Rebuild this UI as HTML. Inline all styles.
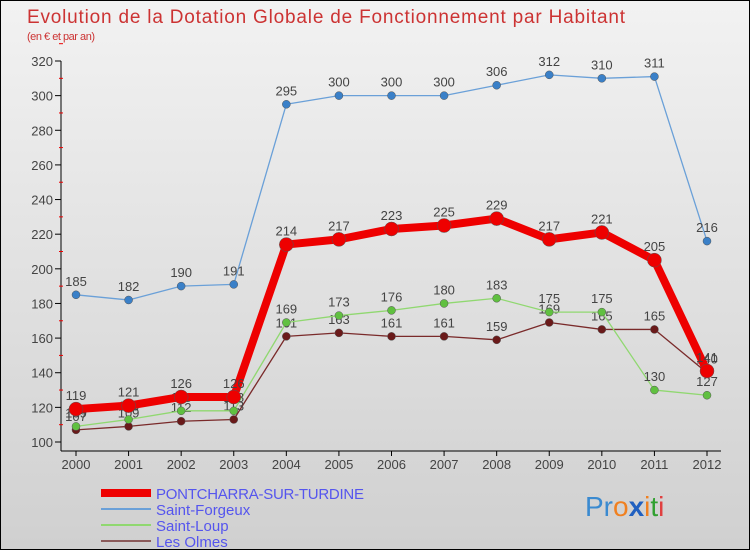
<!DOCTYPE html>
<html><head><meta charset="utf-8"><style>
body{margin:0}
#c{width:750px;height:550px;position:relative;background:linear-gradient(#f2f2f2,#d0d0d0);border:1px solid #000;box-sizing:border-box;font-family:"Liberation Sans",sans-serif;overflow:hidden}
text{font-family:"Liberation Sans",sans-serif}
</style></head><body>
<div id="c">
<svg id="s" width="750" height="550">
<text x="26" y="22" font-size="19" fill="#cc3333" textLength="598">Evolution de la Dotation Globale de Fonctionnement par Habitant</text>
<text x="26" y="39" font-size="11" fill="#cc3333" textLength="68">(en € et par an)</text>
<line x1="60" y1="60" x2="60" y2="450" stroke="#000"/>
<line x1="60" y1="450" x2="720" y2="450" stroke="#000"/>
<g id="ax"></g><g id="ser"></g>
<text x="584" y="515" font-size="28"><tspan fill="#3a8ad0">Pr</tspan><tspan fill="#f08020">o</tspan><tspan fill="#2060c0" font-weight="bold">x</tspan><tspan fill="#f08020">i</tspan><tspan fill="#30a030">t</tspan><tspan fill="#e04040">i</tspan></text>
</svg></div>
<script>
const years=[2000,2001,2002,2003,2004,2005,2006,2007,2008,2009,2010,2011,2012];
const yTicks=[100,120,140,160,180,200,220,240,260,280,300,320];
const pont=[119,121,126,126,214,217,223,225,229,217,221,205,141];
const forgeux=[185,182,190,191,295,300,300,300,306,312,310,311,216];
const loup=[109,113,118,118,169,173,176,180,183,175,175,130,127];
const olmes=[107,109,112,113,161,163,161,161,159,169,165,165,140];
const names=["PONTCHARRA-SUR-TURDINE","Saint-Forgeux","Saint-Loup","Les Olmes"];
const NS="http://www.w3.org/2000/svg";
const X=i=>75+i*(631/12), Y=v=>441-(v-100)*(381/220);
function mk(t,a,p){const e=document.createElementNS(NS,t);for(const k in a)e.setAttribute(k,a[k]);p.appendChild(e);return e;}
const ax=document.getElementById('ax'),ser=document.getElementById('ser'),svg=document.getElementById('s');
yTicks.forEach(v=>{
 const l=mk('line',{x1:54,x2:60,y1:Y(v),y2:Y(v),stroke:'#000'},ax);
 
 
 const r=mk('line',{x1:58,x2:62,y1:Y(v+10),y2:Y(v+10),stroke:'#e00'},ax);
 
 
 const t=mk('text',{x:52,y:Y(v)+5,'font-size':13,fill:'#444','text-anchor':'end'},ax);t.textContent=v;
 
 
});
years.forEach((y,i)=>{
 const l=mk('line',{x1:X(i),x2:X(i),y1:450,y2:455,stroke:'#000'},ax);
 
 
 const t=mk('text',{x:X(i),y:468,'font-size':13,fill:'#444','text-anchor':'middle'},ax);t.textContent=y;
 
 
});
const series=[[olmes,'#7a2a2a','#6a1a1a',1.3,4],[loup,'#90d870','#60c040',1.3,4],[forgeux,'#6aa0d8','#3a80c8',1.3,4],[pont,'#ee0000','#ee0000',8,7]];
series.forEach(([d,c,pc,w,r])=>{
 const pl=mk('polyline',{points:d.map((v,i)=>X(i)+','+Y(v)).join(' '),fill:'none',stroke:c,'stroke-width':w,'stroke-linejoin':'round'},ser);
 
 
 d.forEach((v,i)=>{
  const p=mk('circle',{cx:X(i),cy:Y(v),r:r,fill:pc,stroke:'#555','stroke-width':0.5},ser);
  
  
  const t=mk('text',{x:X(i),y:Y(v)-9,'font-size':13,fill:'#444','text-anchor':'middle'},ser);t.textContent=v;
  
  
 });
});
const lc=['#ee0000','#6aa0d8','#90d870','#8a5a5a'],lw=[8,2,2,2];
names.forEach((n,i)=>{
 const y=492+i*16;
 const l=mk('line',{x1:100,x2:150,y1:y,y2:y,stroke:lc[i],'stroke-width':lw[i]},svg);
 
 
 const t=mk('text',{x:155,y:y+6,'font-size':15,fill:'#5555ee'},svg);t.textContent=n;
 if(i===0)t.setAttribute('textLength','208');
 
 
});
</script>
</body></html>
